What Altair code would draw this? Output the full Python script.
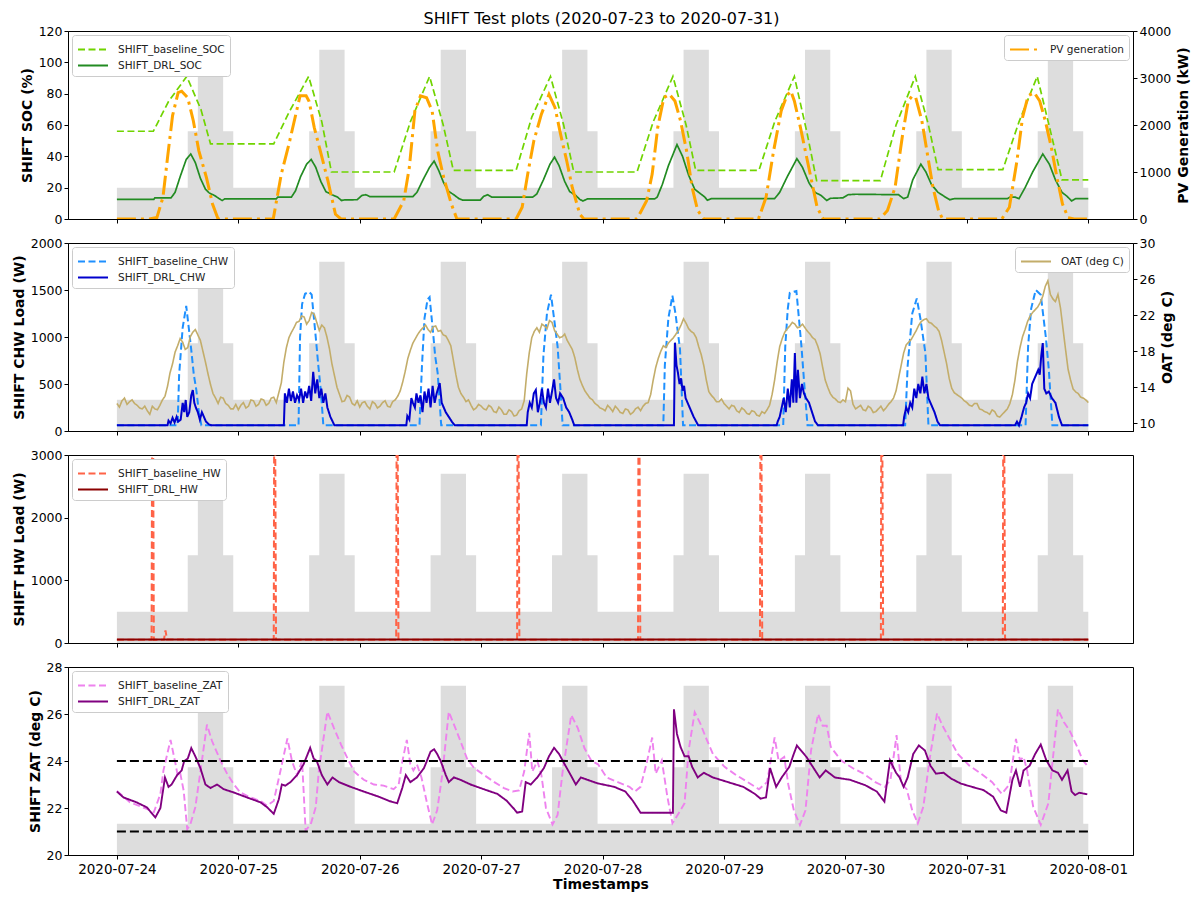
import altair as alt
import pandas as pd

FONT = "DejaVu Sans"
BASE = pd.Timestamp("2020-07-24 00:00:00")

# ---------------- data (hours after 2020-07-24 00:00, value) ----------------
tariff_change_hours = [0, 14, 16, 21, 23]
tariff_level_frac = [0.1667, 0.4667, 0.9, 0.4667, 0.1667]
n_days = 8

soc_baseline = [(0,56),(7.2,56),(10.2,75),(13.8,91),(16.6,70),(18.5,48),
    (31.0,48),(34.0,68),(37.9,91),(40.5,62),(42.4,30),
    (54.8,30),(58.0,62),(61.8,91),(64.5,60),(66.5,31),
    (78.9,31),(82.0,65),(85.7,91),(88.3,60),(90.3,30),
    (102.8,30),(106.0,62),(109.9,91),(112.5,60),(114.4,31),
    (126.9,31),(130.0,62),(133.9,91),(136.4,55),(138.3,24.5),
    (150.9,24.5),(154.0,60),(157.8,91),(160.4,60),(162.3,31.5),
    (175.1,31.5),(178.3,62),(181.9,91),(184.6,55),(186.8,25),(192,25)]

soc_drl = [(0,12.5),(7.3,12.5),(7.5,13.5),(10.7,13.5),(11.5,17),(12.5,27),(13.7,38),(14.6,41.5),(15.5,36),(16.5,26),(17.5,19),(18.3,16.5),(19.3,15),(20.2,13),(20.8,11.8),(21.3,12.8),
    (31.5,12.8),(31.8,14),(34.5,14),(35.3,18),(36.3,27),(37.5,35),(38.4,38),(39.3,33),(40.3,24),(41.3,17.5),(42.5,15.5),(43.6,14),(44.4,11.8),(45,12.2),(47.5,12.3),(48.4,15),(49.2,15.5),(50,14.3),
    (58.5,14.3),(59.3,17),(60.5,25),(61.8,33),(62.7,37),(63.6,31),(64.6,23),(65.6,17.5),(66.6,15.5),(67.6,13),(68.4,12),(71.8,12),(72.5,14.5),(73.3,15.5),(74.1,14),
    (82.2,14),(83,16),(84.3,25),(85.6,35),(86.5,39.5),(87.4,34),(88.5,24),(89.5,17.5),(90.7,15),(91.5,12.5),(92.1,11.5),(93,12.8),
    (106.3,12.8),(106.8,14),(107.8,22),(109,34),(110.7,47.5),(111.8,40),(113,28),(114.2,19),(115.2,16.5),(116.2,14),(116.7,12),(117.5,13),
    (130.0,13),(131,17),(132.5,27),(134.4,38.5),(135.5,33),(136.8,23),(138,17),(139.2,15),(140.3,11.8),(141,13.2),(143.5,13.5),(144.5,15.5),(146,15.8),(154.5,15.5),(155.5,13),(156.3,14),(157.3,25),(158.9,35),(159.9,30),(161,22),(162.3,17),(163.5,14.5),(164.6,12.3),(165.5,13),
    (176,13),(176.5,14),(177.5,14),(178.3,13),(179.5,20),(181,30),(183,41.5),(184.3,35),(185.5,25),(186.8,17),(187.8,14.5),(188.7,11.5),(189.5,13),(192,13)]

pv_generation = [(0,0),(6.4,0),(7.9,30),(9.1,460),(10.0,1300),(11.0,2200),(12.1,2690),(12.8,2720),(14.0,2580),(15.1,2090),(16.2,1450),(17.7,880),(18.9,320),(20.0,0),
    (30.9,0),(32.5,960),(34.0,1590),(36.2,2620),(37.4,2620),(38.0,2500),(39.0,1950),(40.2,1450),(41.7,815),(43.2,100),(44.3,0),
    (54.8,0),(56.7,390),(57.8,1100),(58.9,2300),(60.0,2620),(61.2,2580),(62.3,2300),(63.4,1450),(64.6,880),(66.1,320),(67.2,0),
    (78.9,0),(80.1,250),(81.2,960),(82.4,1660),(83.9,2230),(85.4,2650),(86.6,2370),(87.7,1800),(88.9,1240),(90.0,670),(91.5,100),(92.3,0),
    (102.8,0),(104.7,390),(105.8,955),(106.9,1950),(108.1,2580),(109.2,2655),(110.3,2510),(111.4,2090),(112.6,1450),(113.7,670),(114.8,180),(116.0,0),
    (126.8,0),(128.3,460),(129.8,1450),(131.3,2300),(132.4,2620),(133.2,2725),(133.9,2510),(135.1,1950),(136.2,1380),(137.3,815),(138.4,250),(139.6,0),
    (150.8,0),(152.3,180),(153.8,670),(155.3,1800),(156.4,2510),(157.2,2620),(157.9,2580),(159.1,2090),(160.2,1380),(161.3,670),(162.4,180),(163.2,0),
    (174.9,0),(176.4,250),(177.9,1240),(179.0,2160),(180.1,2620),(181.3,2690),(182.4,2510),(183.5,2090),(184.7,1520),(185.8,880),(186.9,320),(188.0,30),(189.2,0),(192,0)]

chw_baseline = [(0,60),(12.0,60),(12.3,600),(13.0,1100),(13.7,1330),(14.2,1100),(14.7,860),(15.2,600),(15.7,436),(16.2,200),(16.7,60),
    (35.9,60),(36.2,1000),(36.6,1350),(37.2,1460),(38.0,1480),(38.5,1450),(39.3,1000),(39.8,700),(40.3,436),(40.8,60),
    (59.8,60),(60.3,700),(60.8,1200),(61.4,1400),(61.8,1425),(62.4,1100),(62.9,800),(63.4,617),(64.1,60),
    (83.8,60),(84.3,800),(85.0,1250),(85.8,1450),(86.4,1200),(87.1,900),(87.6,500),(88.1,60),
    (108.0,60),(108.3,700),(109.0,1200),(109.8,1440),(110.4,1250),(111.3,870),(111.9,60),
    (131.7,60),(132.1,900),(132.6,1300),(133.0,1470),(134.3,1490),(134.8,1200),(135.3,900),(136.0,400),(136.5,60),
    (155.8,60),(156.3,700),(157.2,1250),(158.1,1410),(158.8,1200),(159.8,830),(160.4,60),
    (179.6,60),(180.1,900),(180.7,1300),(181.6,1500),(182.6,1450),(183.6,1000),(184.2,650),(184.9,60),(192,60)]

chw_drl = [(0,60),(10.0,60),(10.2,110),(10.6,80),(11.0,140),(11.4,90),(11.8,150),(12.1,100),(12.6,120),(13.0,300),(13.3,200),(13.6,330),(13.9,150),(14.3,200),(14.7,380),(15.0,436),(15.3,300),(15.6,250),(16.0,200),(16.4,120),(16.8,200),(17.2,150),(17.6,100),(18.2,70),(18.7,60),
    (33.0,60),(33.2,400),(33.6,300),(34.0,450),(34.4,320),(34.8,420),(35.2,300),(35.6,380),(36.0,330),(36.4,450),(36.8,300),(37.2,420),(37.6,350),(38.0,480),(38.4,320),(38.8,630),(39.2,400),(39.6,550),(40.0,350),(40.4,450),(40.8,300),(41.2,400),(41.6,250),(42.2,150),(43.0,60),
    (57.2,60),(57.4,160),(57.8,120),(58.2,350),(58.5,300),(58.9,250),(59.2,400),(59.6,300),(60.0,380),(60.4,200),(60.8,420),(61.2,300),(61.6,450),(62.0,250),(62.4,480),(62.8,300),(63.2,400),(63.8,510),(64.2,300),(64.6,250),(65.0,200),(65.6,150),(66.2,100),(66.8,60),
    (81.0,60),(81.2,200),(81.6,300),(82.0,250),(82.4,400),(82.8,436),(83.2,200),(83.6,300),(84.0,450),(84.4,300),(84.8,250),(85.2,450),(85.6,300),(86.0,420),(86.4,550),(86.8,350),(87.2,300),(87.6,400),(88.2,350),(88.8,250),(89.4,200),(90.0,120),(90.4,60),
    (110.1,60),(110.3,940),(110.6,700),(110.9,617),(111.2,500),(111.5,560),(111.8,430),(112.1,480),(112.4,350),(112.8,300),(113.2,250),(113.6,200),(114.0,150),(114.5,100),(114.9,60),
    (130.4,60),(130.6,100),(131.0,150),(131.4,250),(131.8,350),(132.2,200),(132.6,450),(133.0,250),(133.4,550),(133.7,300),(134.0,830),(134.3,300),(134.6,650),(135.0,350),(135.4,500),(135.8,400),(136.2,350),(136.8,300),(137.4,200),(138.0,100),(138.6,60),
    (155.4,60),(155.6,150),(156.0,250),(156.4,200),(156.8,300),(157.2,250),(157.6,450),(158.0,350),(158.4,500),(158.8,400),(159.2,578),(159.6,400),(160.0,500),(160.4,350),(160.8,300),(161.6,200),(162.2,100),(162.7,60),
    (177.5,60),(177.9,100),(178.3,60),(178.8,150),(179.3,250),(179.7,300),(180.1,400),(180.5,350),(180.9,500),(181.3,550),(181.7,600),(182.1,650),(182.4,600),(182.7,800),(183.0,936),(183.3,450),(183.7,400),(184.2,420),(184.8,350),(185.5,300),(186.2,150),(186.8,60),(192,60)]

# outdoor air temperature: readings on the hour (hours 0..192) and on the half hour (0.5..191.5)
oat_on_hour = [12.2,12.5,12.1,12.6,12.0,11.6,11.4,11.9,11.5,12.6,14.1,16.6,18.6,19.0,18.4,20.1,19.8,18.0,15.5,13.3,12.2,12.8,12.0,11.6,
    11.5,12.3,11.9,12.5,12.1,12.6,12.2,12.9,13.4,16.8,19.5,20.6,21.3,21.8,21.4,22.1,20.3,20.6,18.3,15.3,13.2,12.5,12.9,12.0,
    11.8,12.4,11.6,12.2,11.9,12.5,11.8,12.6,13.6,15.8,18.1,19.4,20.3,20.9,20.1,20.8,20.3,19.7,18.6,15.4,13.3,12.4,12.0,11.7,
    11.9,11.5,11.8,11.2,11.5,11.0,11.3,10.9,11.6,15.5,19.5,20.6,21.0,20.5,21.2,19.9,19.6,19.2,18.2,16.0,14.2,13.2,12.6,12.0,
    11.6,12.0,11.3,11.6,11.1,11.5,11.2,11.8,11.9,12.3,14.8,17.2,18.6,18.9,19.5,20.3,21.6,20.5,20.0,18.5,16.4,13.5,12.8,12.4,
    12.2,11.6,11.9,11.2,11.5,11.0,11.3,10.8,11.1,12.0,14.8,18.5,20.1,20.8,21.0,20.7,20.6,19.9,19.3,17.7,14.8,13.3,12.7,12.3,
    12.4,13.6,11.6,12.0,11.4,11.7,11.3,11.9,11.7,12.4,13.6,16.4,18.7,19.3,20.3,21.3,21.6,21.1,20.6,19.2,16.6,13.9,13.2,12.8,
    12.3,11.9,12.2,11.5,11.2,11.5,10.8,11.0,11.6,13.2,16.9,19.6,21.3,22.3,22.9,24.1,25.8,23.8,24.3,20.5,16.0,13.8,13.3,12.8,12.3]
oat_half_hour = [11.8,12.8,12.4,12.2,11.7,11.9,11.0,11.6,12.0,13.0,15.6,17.9,19.4,18.2,19.6,20.4,19.2,16.8,14.3,12.8,12.9,12.2,11.6,12.1,
    12.0,11.7,12.6,11.9,12.7,12.0,12.8,12.3,14.5,18.4,20.1,21.2,21.9,21.0,22.3,21.2,20.9,19.6,16.6,14.0,12.4,13.1,12.2,12.5,
    12.3,11.9,12.4,11.7,12.3,11.9,12.4,13.0,14.6,17.2,18.9,19.9,20.6,20.4,20.7,20.2,19.8,19.2,17.0,14.0,12.9,12.6,11.5,12.1,
    11.6,12.0,11.3,11.8,11.0,11.5,10.8,11.4,12.5,17.8,20.2,20.1,20.8,21.4,20.3,19.5,19.9,18.7,17.3,14.9,13.6,12.8,12.2,11.7,
    11.4,11.7,11.9,11.2,11.6,11.0,11.6,11.4,12.2,13.2,16.2,18.0,18.4,19.2,19.9,20.9,21.1,20.2,19.5,17.6,14.8,13.1,12.4,12.7,
    11.9,12.0,11.4,11.7,11.1,11.4,10.9,11.3,11.5,13.2,16.8,19.4,20.5,21.2,20.6,21.0,20.2,19.5,18.6,16.2,14.0,12.9,12.4,12.6,
    13.9,12.1,11.8,11.5,11.9,11.2,11.6,11.4,12.1,12.8,15.0,17.8,19.0,19.8,20.9,21.5,21.2,20.8,20.2,17.9,15.0,13.4,13.0,12.5,
    12.0,12.2,11.6,11.3,11.0,11.3,10.7,11.3,12.2,14.8,18.4,20.4,21.9,22.6,23.4,25.2,24.3,23.5,22.8,18.2,14.8,13.5,12.9,12.6]

hw_baseline = [(0,50),(6.85,50),(7.05,6000),(7.3,50),(9.3,55),(9.6,200),(9.9,55),
    (31.0,50),(31.15,6000),(31.45,50),(55.2,50),(55.35,6000),(55.65,50),
    (79.1,50),(79.25,6000),(79.55,50),(103.0,50),(103.15,6000),(103.45,50),
    (127.1,50),(127.25,6000),(127.55,50),(151.0,50),(151.15,6000),(151.45,50),
    (175.1,50),(175.25,6000),(175.55,50),(192,50)]
hw_drl = [(0,55),(192,55)]

zat_baseline = [(0,22.73),(2.6,22.24),(5.9,21.96),(7.3,21.82),(8.6,22.6),(9.2,23.6),(10.6,24.9),(11.6,23.86),(12.0,23.4),(12.5,23.5),(13.2,22.73),(13.9,21.1),(14.5,21.3),(15.5,22.03),(16.5,23.55),(17.8,25.55),(18.8,24.85),(20.5,24.0),(21.8,23.45),(23.1,23.01),
    (24.4,22.66),(26.4,22.45),(28.4,22.3),(29.7,22.1),(31.0,22.3),(32.3,23.55),(33.7,24.96),(34.6,24.0),(35.6,23.4),(36.6,24.0),(37.3,21.05),(38.3,21.3),(39.3,22.03),(39.9,23.55),(41.6,26.1),(42.9,25.4),(44.3,24.7),(45.6,24.1),(46.9,23.55),
    (48.8,23.2),(50.8,23.0),(52.7,22.95),(54.7,22.8),(55.7,23.0),(56.3,23.86),(57.3,24.9),(58.0,23.86),(58.6,23.6),(59.3,23.86),(60.2,23.3),(61.3,22.2),(62.3,21.3),(63.3,21.9),(64.3,23.4),(65.6,26.1),(66.9,25.4),(67.9,24.85),(69.2,24.1),(70.6,23.7),
    (72.6,23.4),(74.6,23.1),(76.5,22.85),(78.2,22.7),(79.5,22.75),(80.5,23.55),(81.5,25.2),(82.1,23.55),(83.1,24.0),(83.9,23.4),(84.8,22.0),(86.1,21.3),(87.1,21.7),(88.1,23.55),(89.8,25.95),(91.1,25.4),(92.4,24.55),(93.8,24.0),(95.1,23.86),
    (96.8,23.3),(99.0,23.1),(101.3,22.9),(102.4,22.7),(103.5,22.9),(104.7,23.9),(105.8,25.0),(106.5,23.46),(107.7,24.03),(108.8,22.48),(109.8,21.35),(111.1,21.8),(112.2,22.2),(113.0,24.45),(114.2,26.07),(115.3,25.6),(116.4,25.0),(117.8,24.3),
    (120.1,23.75),(122.4,23.4),(124.7,23.1),(126.9,22.8),(128.5,23.1),(130.0,25.0),(130.8,24.0),(131.9,24.17),(132.7,23.0),(133.8,21.9),(135.0,21.28),(136.1,21.9),(137.2,24.45),(138.6,26.0),(139.5,25.5),(140.3,25.5),(141.1,24.6),(143.1,24.03),
    (145.4,23.7),(147.6,23.46),(149.9,23.1),(151.8,22.9),(152.9,23.2),(154.1,25.1),(155.0,23.04),(156.1,22.8),(157.2,21.9),(158.3,21.35),(159.4,22.06),(160.6,24.03),(162.1,26.03),(163.2,25.5),(164.7,24.9),(166.2,24.3),
    (168.5,23.8),(170.8,23.46),(173.0,23.1),(174.9,22.6),(176.4,23.0),(177.7,24.94),(178.5,24.03),(179.2,24.17),(179.9,23.6),(181.1,22.06),(182.6,21.28),(184.1,22.2),(184.9,23.9),(186.0,26.2),(187.2,25.65),(188.3,25.3),(189.8,24.6),(190.9,24.03),(191.8,23.8)]

zat_drl = [(0,22.7),(1.3,22.45),(3.9,22.24),(5.9,22.03),(7.6,21.6),(8.6,22.0),(9.5,23.3),(10.2,22.9),(10.8,23.0),(11.9,23.4),(12.8,23.6),(13.3,24.0),(14.0,24.1),(14.7,24.55),(15.5,24.2),(16.5,23.7),(17.5,23.0),(18.5,22.85),(19.8,23.0),(21.1,22.8),(23.1,22.66),
    (25.7,22.45),(28.4,22.24),(29.7,22.03),(31.0,21.75),(32.0,22.37),(32.6,23.0),(33.3,22.95),(34.3,23.1),(35.6,23.4),(36.9,23.86),(38.2,24.56),(38.9,24.1),(39.5,24.0),(40.5,23.4),(41.6,23.0),(42.6,23.3),(43.9,23.1),(46.2,22.9),
    (48.8,22.7),(51.5,22.5),(53.8,22.3),(55.4,22.2),(56.4,22.85),(57.1,23.4),(58.0,23.1),(59.3,23.3),(60.7,23.7),(62.0,24.4),(62.7,24.5),(63.3,24.3),(64.0,24.0),(65.0,23.4),(65.6,23.1),(66.6,23.3),(67.9,23.2),(69.9,23.0),
    (72.5,22.8),(75.2,22.6),(77.1,22.3),(78.5,21.96),(79.1,21.8),(80.1,21.85),(80.8,23.1),(81.8,23.0),(83.1,23.3),(84.4,23.7),(85.4,24.2),(86.4,24.56),(87.4,24.3),(88.4,23.9),(89.7,23.4),(90.7,23.0),(91.7,23.3),(93.0,23.2),(95.0,23.05),
    (98.3,22.9),(100.5,22.7),(102.0,22.3),(103.5,21.8),(109.9,21.8),(110.1,26.2),(110.7,25.15),(111.4,24.6),(112.2,24.2),(113.0,24.2),(113.7,23.75),(114.8,23.3),(116.0,23.5),(117.8,23.3),
    (120.8,23.1),(123.8,22.9),(126.1,22.6),(127.2,22.4),(128.3,22.45),(129.1,23.7),(130.3,22.9),(131.4,23.3),(132.9,23.75),(133.7,24.25),(134.4,24.66),(135.2,24.45),(136.3,24.17),(137.4,23.8),(138.9,23.3),(140.1,23.6),(141.9,23.3),
    (144.9,23.2),(147.9,22.97),(150.2,22.7),(151.7,22.27),(152.8,24.03),(154.0,23.5),(154.7,23.3),(155.5,22.9),(156.3,23.3),(157.4,24.3),(158.5,24.66),(159.7,24.45),(160.8,23.8),(161.9,23.46),(163.4,23.5),(164.9,23.25),(166.8,23.04),
    (169.0,22.9),(171.3,22.76),(173.2,22.48),(174.7,21.9),(175.8,21.8),(177.0,23.2),(177.7,23.6),(178.5,22.9),(179.2,23.6),(180.4,23.8),(181.5,24.3),(182.6,24.7),(183.7,24.03),(184.9,23.6),(186.0,23.5),(186.8,23.2),(187.9,23.6),(188.7,22.7),(189.4,22.55),(190.2,22.65),(191.4,22.6),(191.8,22.58)]

zat_limits = [24, 21]
zat_limit_span = [0, 192]

# ---------------- helpers ----------------
def ts(h):
    return (BASE + pd.Timedelta(hours=h)).strftime("%Y-%m-%dT%H:%M:%S")

def frame(pairs, name):
    return pd.DataFrame({"time": [ts(h) for h, _ in pairs], "value": [v for _, v in pairs], "series": name})

gray_rows = []
for d in range(n_days):
    for h, lv in zip(tariff_change_hours, tariff_level_frac):
        gray_rows.append({"time": ts(d * 24 + h), "level": lv})
gray_rows.append({"time": ts(n_days * 24), "level": tariff_level_frac[0]})
gray_df = pd.DataFrame(gray_rows)

oat_pairs = [(h, v) for h, v in enumerate(oat_on_hour)] + [(h + 0.5, v) for h, v in enumerate(oat_half_hour)]
oat_pairs.sort()

W, H = 1065, 188
X_DOMAIN = [alt.DateTime(year=2020, month=7, date=23, hours=14, minutes=20),
            alt.DateTime(year=2020, month=8, date=1, hours=8, minutes=50)]
X_TICKS = [alt.DateTime(year=2020, month=7, date=d) for d in range(24, 32)] + [alt.DateTime(year=2020, month=8, date=1)]

def xenc(last, field="time"):
    if last:
        ax = alt.Axis(values=X_TICKS, format="%Y-%m-%d", title="Timestamps", labelFlush=False, labelFontSize=13.5,
                      grid=False, zindex=1, tickSize=4, labelPadding=3, titlePadding=2)
    else:
        ax = alt.Axis(values=X_TICKS, labels=False, title=None, grid=False, zindex=1, tickSize=4)
    return alt.X(f"{field}:T", scale=alt.Scale(domain=X_DOMAIN), axis=ax)

def legend(orient):
    return alt.Legend(title=None, orient=orient, offset=4, fillColor="white", strokeColor="#cccccc",
                      padding=5, cornerRadius=3, labelFontSize=10.5, labelFont=FONT, labelColor="#222222",
                      symbolType="M-1,0H2.53", symbolSize=289, symbolStrokeWidth=2, rowPadding=1, labelOffset=22)

def gray_layer(last):
    return alt.Chart(gray_df).mark_area(interpolate="step-after", color="#dddddd").encode(
        x=xenc(last), y=alt.Y("level:Q", scale=alt.Scale(domain=[0, 1], nice=False), axis=None))

def pair_layer(df, names, colors, dashes, domain, ticks, title, width, last, orient="top-left"):
    return alt.Chart(df).mark_line(strokeWidth=width, clip=True).encode(
        x=xenc(last),
        y=alt.Y("value:Q", scale=alt.Scale(domain=domain, nice=False, zero=False),
                axis=alt.Axis(orient="left", values=ticks, format="d", title=title, grid=False, zindex=1, tickSize=4)),
        color=alt.Color("series:N", scale=alt.Scale(domain=names, range=colors), legend=legend(orient)),
        strokeDash=alt.StrokeDash("series:N", scale=alt.Scale(domain=names, range=dashes), legend=legend(orient)),
    )

def right_layer(df, name, color, dash, domain, ticks, title, width, last):
    return alt.Chart(df).mark_line(strokeWidth=width, clip=True).encode(
        x=xenc(last),
        y=alt.Y("value:Q", scale=alt.Scale(domain=domain, nice=False, zero=False),
                axis=alt.Axis(orient="right", values=ticks, format="d", title=title, titleAngle=270,
                              titleBaseline="top", titlePadding=6, grid=False, zindex=1, tickSize=4)),
        color=alt.Color("series:N", scale=alt.Scale(domain=[name], range=[color]), legend=legend("top-right")),
        strokeDash=alt.StrokeDash("series:N", scale=alt.Scale(domain=[name], range=[dash]), legend=legend("top-right")),
    )

DASH = [7, 3.5]
SOLID = [1, 0]

# panel 1
soc_names = ["SHIFT_baseline_SOC", "SHIFT_DRL_SOC"]
soc_df = pd.concat([frame(soc_baseline, soc_names[0]), frame(soc_drl, soc_names[1])])
pv_df = frame(pv_generation, "PV generation")
p1 = alt.layer(
    gray_layer(False),
    pair_layer(soc_df, soc_names, ["#70d400", "#228B22"], [DASH, SOLID], [0, 120], list(range(0, 121, 20)), "SHIFT SOC (%)", 1.7, False),
    right_layer(pv_df, "PV generation", "#FFA500", [19, 5, 3, 5], [0, 4000], [0, 1000, 2000, 3000, 4000], "PV Generation (kW)", 3, False),
).resolve_scale(y="independent", color="independent", strokeDash="independent").properties(width=W, height=H)

# panel 2
chw_names = ["SHIFT_baseline_CHW", "SHIFT_DRL_CHW"]
chw_df = pd.concat([frame(chw_baseline, chw_names[0]), frame(chw_drl, chw_names[1])])
oat_df = frame(oat_pairs, "OAT (deg C)")
p2 = alt.layer(
    gray_layer(False),
    pair_layer(chw_df, chw_names, ["#1E90FF", "#0000CD"], [DASH, SOLID], [0, 2000], [0, 500, 1000, 1500, 2000], "SHIFT CHW Load (W)", 2, False),
    right_layer(oat_df, "OAT (deg C)", "#c3ad6a", SOLID, [9.15, 30], [10, 14, 18, 22, 26, 30], "OAT (deg C)", 1.6, False),
).resolve_scale(y="independent", color="independent", strokeDash="independent").properties(width=W, height=H)

# panel 3
hw_names = ["SHIFT_baseline_HW", "SHIFT_DRL_HW"]
hw_df = pd.concat([frame(hw_baseline, hw_names[0]), frame(hw_drl, hw_names[1])])
p3 = alt.layer(
    gray_layer(False),
    pair_layer(hw_df, hw_names, ["#FF6347", "#8B0000"], [DASH, SOLID], [0, 3000], [0, 1000, 2000, 3000], "SHIFT HW Load (W)", 2, False),
).resolve_scale(y="independent").properties(width=W, height=H)

# panel 4
zat_names = ["SHIFT_baseline_ZAT", "SHIFT_DRL_ZAT"]
zat_df = pd.concat([frame(zat_baseline, zat_names[0]), frame(zat_drl, zat_names[1])])
lim_df = pd.DataFrame({"v": zat_limits, "start": ts(zat_limit_span[0]), "end": ts(zat_limit_span[1])})
limits = alt.Chart(lim_df).mark_rule(color="black", strokeWidth=2, strokeDash=[9, 4]).encode(
    x=xenc(True, "start"), x2="end:T",
    y=alt.Y("v:Q", scale=alt.Scale(domain=[20, 28], nice=False, zero=False), axis=None))
p4 = alt.layer(
    gray_layer(True),
    pair_layer(zat_df, zat_names, ["#EE82EE", "#800080"], [DASH, SOLID], [20, 28], [20, 22, 24, 26, 28], "SHIFT ZAT (deg C)", 1.9, True),
    limits,
).resolve_scale(y="independent").properties(width=W, height=H)

chart = alt.vconcat(p1, p2, p3, p4, spacing=10).resolve_scale(
    color="independent", strokeDash="independent"
).properties(
    title=alt.TitleParams("SHIFT Test plots (2020-07-23 to 2020-07-31)", fontSize=16, font=FONT,
                          fontWeight="normal", anchor="middle", offset=-2, color="#000000"),
    padding={"left": 11, "right": 4, "top": 10, "bottom": 2},
).configure_axis(
    labelFont=FONT, titleFont=FONT, labelFontSize=12.5, titleFontSize=14, titleFontWeight="bold",
    labelColor="#000000", titleColor="#000000", tickColor="#000000", domainColor="#000000",
    tickWidth=1, domainWidth=1
).configure_view(stroke="#000000", strokeWidth=1)

chart.save("out.html", embed_options={"renderer": "svg", "actions": False})
